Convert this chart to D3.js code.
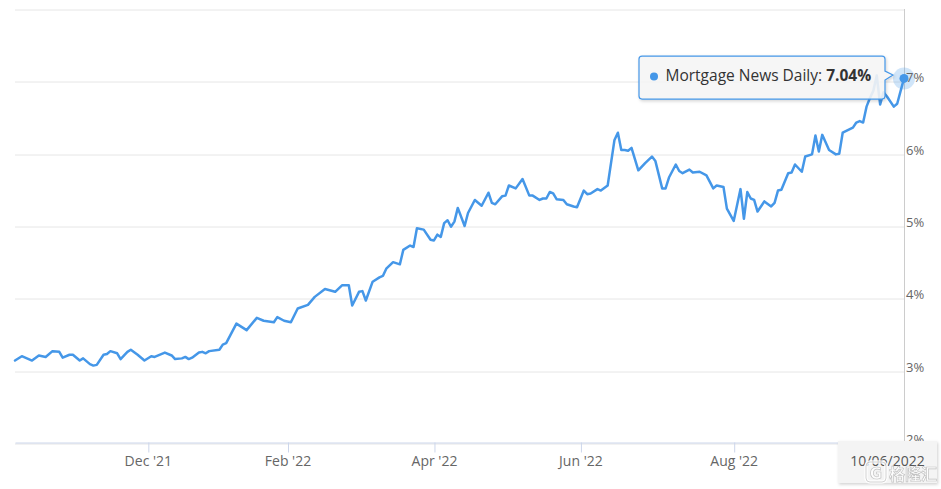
<!DOCTYPE html>
<html><head><meta charset="utf-8">
<script src="https://cdn.jsdelivr.net/npm/d3@7"></script>
<style>
html,body{margin:0;padding:0;background:#fff;}
svg{display:block;font-family:"Open Sans",sans-serif;}
</style></head><body>
<svg id="chart" width="941" height="489"></svg>
<script>
// ---- data (trading-session index from 10/07/2021 to 10/06/2022) ----
const sessions = [0,2,5,7,9,11,13,14,16,17,19,20,22,23,24,26,27,28,30,31,33,34,36,38,40,41,44,46,47,49,50,51,52,54,55,56,57,60,61,62,65,68,71,73,76,77,79,81,83,86,88,91,94,96,98,99,101,102,103,105,107,108,109,111,113,114,116,117,118,120,122,123,124,125,126,127,128,129,130,132,133,135,137,139,140,141,143,144,145,147,149,151,152,154,155,156,157,158,159,161,162,164,165,167,168,169,171,172,174,176,177,178,179,180,181,183,185,187,188,190,191,192,194,195,196,198,199,201,203,205,206,208,209,211,213,214,215,216,217,218,220,222,223,224,225,227,228,229,231,232,234,235,236,237,239,241,242,243,246,247,248,249,250,251,252,253,254,255,256,258,259,261];
const rates = [3.14,3.20,3.14,3.21,3.19,3.27,3.26,3.18,3.22,3.22,3.14,3.17,3.09,3.07,3.08,3.22,3.23,3.27,3.24,3.16,3.26,3.29,3.22,3.14,3.20,3.19,3.25,3.21,3.16,3.17,3.19,3.16,3.18,3.25,3.26,3.24,3.27,3.29,3.36,3.38,3.65,3.56,3.73,3.69,3.67,3.74,3.69,3.67,3.86,3.91,4.02,4.13,4.09,4.18,4.18,3.90,4.09,4.10,3.97,4.23,4.29,4.31,4.41,4.50,4.47,4.67,4.73,4.71,4.97,4.95,4.81,4.80,4.88,4.85,5.04,5.08,4.99,5.06,5.25,5.00,5.18,5.36,5.28,5.46,5.32,5.30,5.41,5.42,5.56,5.52,5.65,5.42,5.42,5.36,5.38,5.38,5.47,5.45,5.37,5.36,5.30,5.27,5.26,5.49,5.44,5.45,5.51,5.49,5.56,6.19,6.29,6.05,6.05,6.04,6.08,5.77,5.87,5.96,5.90,5.52,5.52,5.67,5.85,5.76,5.73,5.78,5.74,5.75,5.70,5.52,5.56,5.54,5.24,5.07,5.51,5.10,5.47,5.38,5.36,5.20,5.34,5.27,5.32,5.49,5.50,5.73,5.74,5.85,5.75,5.96,5.99,6.25,6.03,6.26,6.05,5.99,6.00,6.29,6.36,6.43,6.45,6.43,6.65,6.77,6.87,7.08,6.68,6.85,6.79,6.65,6.69,7.04];
const yTicks = [2,3,4,5,6,7];
const yGrid = [2,3,4,5,6,7,8];
const xTickSessions = [39,80,123,166,211];
const xTickLabels = ["Dec '21","Feb '22","Apr '22","Jun '22","Aug '22"];
const seriesName = "Mortgage News Daily";
const lastDateLabel = "10/06/2022";
const watermarkText = "格隆汇";

const color = "#4597e8";
const svg = d3.select("#chart");
const x = d3.scaleLinear().domain([0, 261]).range([15, 904]);
const y = d3.scaleLinear().domain([2, 8]).range([443, 9]);
const data = sessions.map((s, i) => ({s, v: rates[i]}));

// defs
const defs = svg.append("defs");
const f = defs.append("filter").attr("id","sh").attr("x","-10%").attr("y","-20%").attr("width","130%").attr("height","160%");
f.append("feDropShadow").attr("dx",1).attr("dy",1.5).attr("stdDeviation",1.6).attr("flood-color","#000").attr("flood-opacity",0.18);

// gridlines
const grid = svg.append("g").attr("transform","translate(904,0)")
  .call(d3.axisLeft(y).tickValues(yGrid).tickSize(889).tickFormat(""));
grid.select(".domain").remove();
grid.selectAll(".tick line").attr("stroke","#e6e6e6").attr("stroke-width",1)
  .attr("transform", d => `translate(0,${Math.round(y(d)) + 0.5 - y(d)})`);

// x axis
const xa = svg.append("g").attr("transform","translate(0,442.5)")
  .call(d3.axisBottom(x).tickValues(xTickSessions).tickFormat((d,i)=>xTickLabels[i]).tickSize(10).tickPadding(3.5).tickSizeOuter(0));
xa.select(".domain").attr("stroke","#ccd6eb");
xa.selectAll(".tick line").attr("stroke","#ccd6eb").attr("transform","translate(0.5,0)");
xa.selectAll(".tick text").attr("fill","#666").style("font-size","14px").style("font-family","'Open Sans',sans-serif");

// crosshair
const last = data[data.length-1];
const px = x(last.s), py = y(last.v);
svg.append("line").attr("x1",Math.round(px)+0.5).attr("x2",Math.round(px)+0.5)
  .attr("y1",y(8)).attr("y2",y(2)).attr("stroke","#cccccc").attr("stroke-width",1);

// series line
svg.append("path").datum(data)
  .attr("d", d3.line().x(d=>x(d.s)).y(d=>y(d.v)))
  .attr("fill","none").attr("stroke",color).attr("stroke-width",2.5)
  .attr("stroke-linejoin","round").attr("stroke-linecap","round");

// hover marker
svg.append("circle").attr("cx",px).attr("cy",py).attr("r",11).attr("fill",color).attr("opacity",0.25);
svg.append("circle").attr("cx",px).attr("cy",py).attr("r",4.5).attr("fill",color);

// y labels
const ya = svg.append("g").attr("transform","translate(904,0)")
  .call(d3.axisRight(y).tickValues(yTicks).tickSize(0).tickPadding(2).tickFormat(d=>d+"%"));
ya.select(".domain").remove();
ya.selectAll(".tick text").attr("fill","#666").attr("dy","0.5")
  .style("font-size","13px").style("font-family","'Open Sans',sans-serif");

// tooltip
const R = px - 19, L = R - 246, T = py - 22.4, B = py + 20.6, r = 3;
const tip = svg.append("g");
tip.append("path")
  .attr("d", `M${L+r},${T} H${R-r} Q${R},${T} ${R},${T+r} V${py-7.4} L${R+8},${py-3.4} L${R},${py+1.6} V${B-r} Q${R},${B} ${R-r},${B} H${L+r} Q${L},${B} ${L},${B-r} V${T+r} Q${L},${T} ${L+r},${T} Z`)
  .attr("fill","rgba(247,247,247,0.88)").attr("stroke",color).attr("stroke-width",1.2)
  .attr("filter","url(#sh)");
tip.append("circle").attr("cx",L+15).attr("cy",py-2).attr("r",4).attr("fill",color);
const tt = tip.append("text").attr("x",L+26.5).attr("y",py+3).attr("fill","#333").style("font-size","15.5px");
tt.append("tspan").text(seriesName + ": ");
tt.append("tspan").attr("font-weight","bold").text(d3.format(".2f")(last.v) + "%");

// crosshair date label
const lb = svg.append("g");
lb.append("rect").attr("x",838).attr("y",441).attr("width",99).attr("height",42)
  .attr("fill","#f4f4f4").attr("filter","url(#sh)");
lb.append("text").attr("x",887.5).attr("y",466).attr("text-anchor","middle")
  .attr("fill","#555").style("font-size","14px").text(lastDateLabel);

// watermark
const wm = svg.append("g").attr("opacity",0.9);
wm.append("rect").attr("x",866).attr("y",462).attr("width",20).attr("height",20).attr("rx",4)
  .attr("fill","none").attr("stroke","rgba(255,255,255,0.9)").attr("stroke-width",3.5);
wm.append("rect").attr("x",866).attr("y",462).attr("width",20).attr("height",20).attr("rx",4)
  .attr("fill","none").attr("stroke","#c4c4c4").attr("stroke-width",0.8);
wm.append("text").attr("x",876).attr("y",478.5).attr("text-anchor","middle")
  .style("font-family","'DejaVu Sans',sans-serif").style("font-weight","bold").style("font-size","15px")
  .attr("fill","rgba(255,255,255,0.9)").attr("stroke","#bdbdbd").attr("stroke-width",0.7).text("G");
wm.append("text").attr("x",889).attr("y",480)
  .style("font-family","'Noto Sans CJK SC',sans-serif").style("font-size","16px").style("font-weight","bold")
  .attr("fill","rgba(255,255,255,0.9)").attr("stroke","#bdbdbd").attr("stroke-width",0.7).text(watermarkText);
</script>
</body></html>
